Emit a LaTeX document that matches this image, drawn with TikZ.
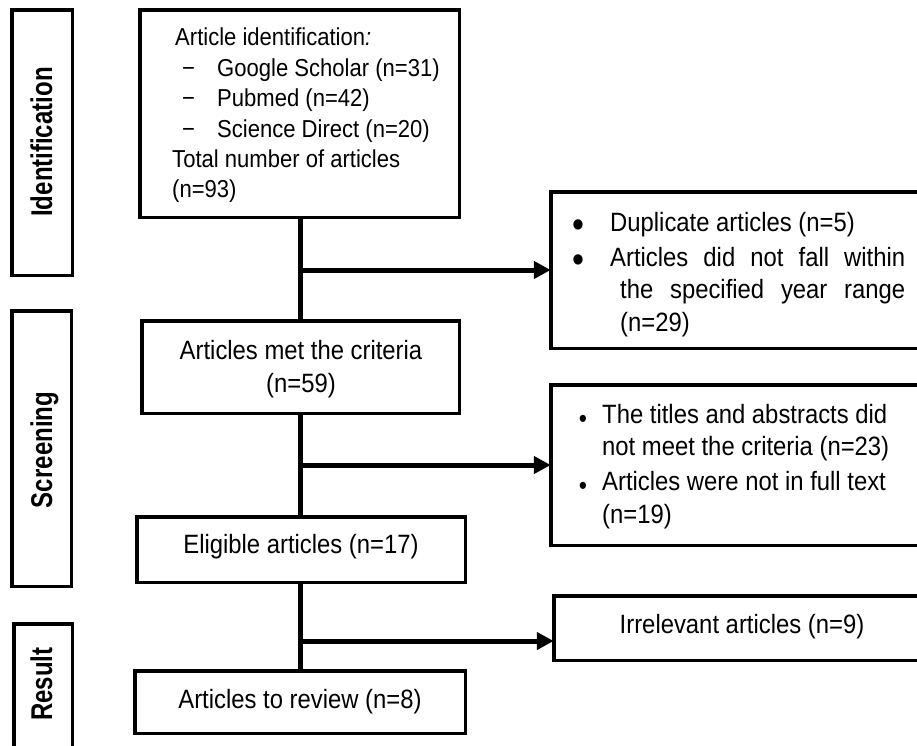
\documentclass[tikz,border=0pt]{standalone}
\usepackage{fontspec}
\setmainfont{Liberation Sans}[FakeStretch=0.9]
\newfontfamily\lblfont{Liberation Sans}[FakeStretch=0.8]
\usetikzlibrary{arrows.meta}
\begin{document}
\begin{tikzpicture}[x=1pt,y=-1pt,
  frame/.style={draw, line width=3.5pt, inner sep=0pt, outer sep=0pt},
  conn/.style={line width=5pt},
  arr/.style={line width=5pt, -{Triangle[length=17pt,width=17pt]}},
  txt/.style={inner sep=0pt, anchor=base west, font=\fontsize{26.5}{31}\selectfont},
  txtc/.style={inner sep=0pt, anchor=base, font=\fontsize{26.5}{31}\selectfont},
  txtA/.style={inner sep=0pt, anchor=base west, font=\fontsize{24.5}{30}\selectfont},
  lbl/.style={inner sep=0pt, anchor=base, rotate=90, font=\lblfont\bfseries\fontsize{30}{32}\selectfont},
  bul/.style={inner sep=0pt, anchor=base, font=\fontsize{38}{40}\selectfont},
  bulsm/.style={inner sep=0pt, anchor=base, font=\fontsize{26}{30}\selectfont}]
\useasboundingbox (0,0) rectangle (917,745);

% stage labels
\node[frame, minimum width=60.5pt, minimum height=265.5pt] (L1) at (42,142.5) {};
\node[frame, minimum width=59.5pt, minimum height=275.5pt] (L2) at (41.5,448.5) {};
\node[frame, minimum width=58.5pt, minimum height=154.5pt] (L3) at (43,701) {};
\node[lbl] (t1) at (52,142) {Identification};
\node[lbl] (t2) at (52,450) {Screening};
\node[lbl] (t3) at (52,684) {Result};

% main boxes
\node[frame, minimum width=319.5pt, minimum height=207.5pt] (b1) at (299.5,113.5) {};
\node[frame, minimum width=317.5pt, minimum height=92.5pt] (b2) at (300.5,367) {};
\node[frame, minimum width=328.5pt, minimum height=65.5pt] (b3) at (301,549.5) {};
\node[frame, minimum width=330.5pt, minimum height=62.5pt] (b4) at (300,702) {};

% side boxes
\node[frame, minimum width=382.5pt, minimum height=156.5pt] (s1) at (742,270) {};
\node[frame, minimum width=382.5pt, minimum height=160.5pt] (s2) at (742,465) {};
\node[frame, minimum width=379.5pt, minimum height=64.5pt] (s3) at (743.5,628) {};

% box 1 text
\node[txtA] (a0) at (175,45) {Article identification\textit{:}};
\node[txtA] (d1) at (182,76) {−};
\node[txtA] (d2) at (182,106) {−};
\node[txtA] (d3) at (182,137) {−};
\node[txtA] (a1) at (217,76) {Google Scholar (n=31)};
\node[txtA] (a2) at (217,106) {Pubmed (n=42)};
\node[txtA] (a3) at (217,137) {Science Direct (n=20)};
\node[txtA] (a4) at (172,167) {Total number of articles};
\node[txtA] (a5) at (172,197) {(n=93)};

% boxes 2-4 text
\node[txtc] (m1) at (301,359) {Articles met the criteria};
\node[txtc] (m2) at (301,392) {(n=59)};
\node[txtc] (e1) at (301,553) {Eligible articles (n=17)};
\node[txtc] (r1) at (300,708) {Articles to review (n=8)};

% side box 1 text
\node[bul] (p1) at (578,237) {\textbullet};
\node[bul] (p2) at (578,272) {\textbullet};
\node[txt] (x1) at (610,231) {Duplicate articles (n=5)};
\node[txt] (x2) at (610,266) {\makebox[295pt][s]{Articles did not fall within}};
\node[txt] (x3) at (620,298) {\makebox[285pt][s]{the specified year range}};
\node[txt] (x4) at (620,331) {(n=29)};

% side box 2 text
\node[bulsm] (q1) at (583,427) {\textbullet};
\node[bulsm] (q2) at (583,494) {\textbullet};
\node[txt] (y1) at (602,423) {The titles and abstracts did};
\node[txt] (y2) at (602,455) {not meet the criteria (n=23)};
\node[txt] (y3) at (602,490) {Articles were not in full text};
\node[txt] (y4) at (602,523) {(n=19)};

% side box 3 text
\node[txtc] (z1) at (742,633) {Irrelevant articles (n=9)};

% connectors
\coordinate (j1) at (300,270);
\coordinate (j2) at (300,465);
\coordinate (j3) at (300,641);
\draw[conn] (b1.south -| j1) -- (b2.north -| j1);
\draw[conn] (b2.south -| j1) -- (b3.north -| j1);
\draw[conn] (b3.south -| j1) -- (b4.north -| j1);
\draw[arr] (j1) -- (j1 -| s1.west);
\draw[arr] (j2) -- (j2 -| s2.west);
\draw[arr] (j3) -- (j3 -| s3.west);
\end{tikzpicture}
\end{document}
